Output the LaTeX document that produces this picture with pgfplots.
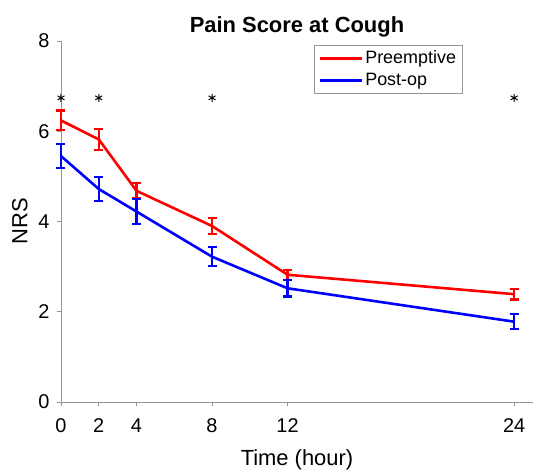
\documentclass[border=0pt]{standalone}
\usepackage{pgfplots}
\pgfplotsset{compat=1.18}
\usepackage{fontspec}
\setmainfont{Liberation Sans}
\definecolor{axgray}{RGB}{150,150,150}
\begin{document}
\begin{tikzpicture}
\useasboundingbox (-61bp,-68bp) rectangle (473bp,402bp);
\begin{axis}[
  at={(0,0)}, anchor=south west,
  scale only axis,
  width=472bp, height=361bp,
  xmin=0, xmax=25, ymin=0, ymax=8,
  clip=false,
  axis lines=left,
  axis line style={axgray, line width=0.8bp, -},
  xtick={0,2,4,8,12,24},
  ytick={0,2,4,6,8},
  tick style={axgray, line width=0.8bp},
  tick align=outside,
  major tick length=4bp,
  /pgf/number format/assume math mode=true,
  tick label style={font=\fontsize{20}{22}\selectfont, black},
  xticklabel style={yshift=-9bp},
  yticklabel style={xshift=-4bp},
  xlabel={Time (hour)},
  ylabel={NRS},
  label style={font=\fontsize{22}{24}\selectfont},
  xlabel style={yshift=-10bp},
  ylabel style={yshift=4bp},
  title={\textbf{Pain Score at Cough}},
  title style={font=\fontsize{22}{24}\selectfont, yshift=-6bp},
  legend style={at={(0.85,0.99)}, anchor=north east, draw=axgray,
    font=\fontsize{18}{20}\selectfont, inner sep=4bp, row sep=4bp,
    cells={anchor=west}},
  legend image post style={line width=3bp},
  legend image code/.code={\draw plot coordinates {(0bp,0bp) (42bp,0bp)};},
  error bars/error bar style={line width=2.3bp},
  error bars/error mark options={rotate=90, mark size=4.5bp, line width=2.3bp},
]
\addplot[red, line width=2.6bp, mark=none,
  error bars/.cd, y dir=both, y explicit]
  table[x=t, y=m, y error=e] {
t m e
0 6.24 0.22
2 5.82 0.23
4 4.68 0.17
8 3.90 0.17
12 2.82 0.11
24 2.39 0.12
};
\addlegendentry{Preemptive}
\addplot[blue, line width=2.6bp, mark=none,
  error bars/.cd, y dir=both, y explicit]
  table[x=t, y=m, y error=e] {
t m e
0 5.45 0.27
2 4.72 0.27
4 4.22 0.28
8 3.22 0.21
12 2.52 0.18
24 1.78 0.17
};
\addlegendentry{Post-op}
\addplot[black, only marks, mark=asterisk, mark size=4bp, line width=1bp, forget plot]
  coordinates {(0,6.74) (2,6.74) (8,6.74) (24,6.74)};
\end{axis}
\end{tikzpicture}
\end{document}
